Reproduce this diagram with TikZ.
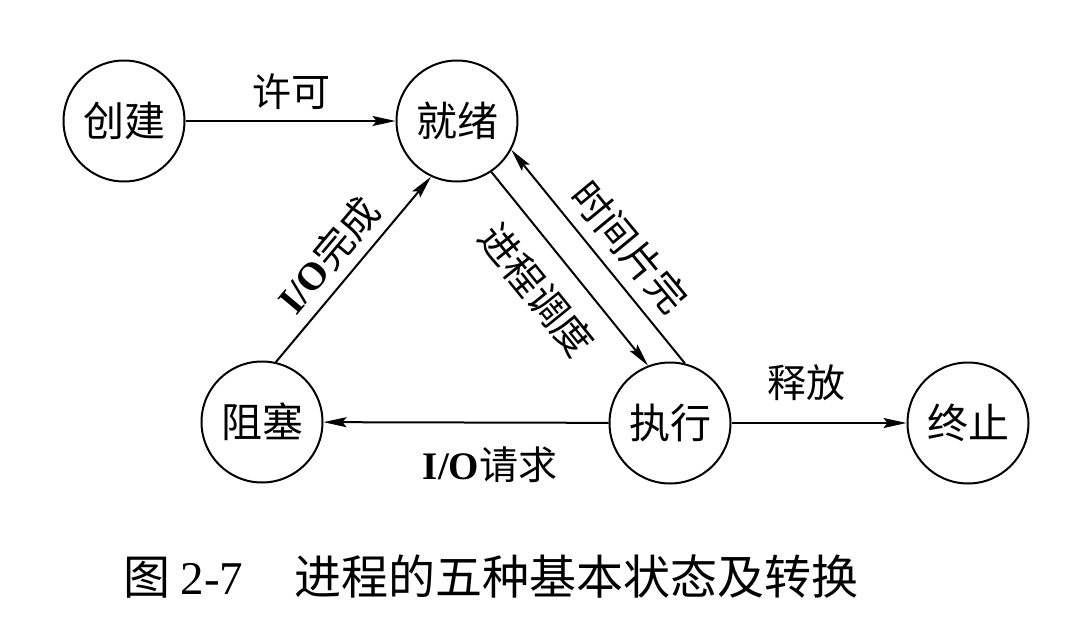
\documentclass[tikz,border=0pt]{standalone}
\usepackage{fontspec}
\setmainfont{Liberation Serif}
\newfontfamily\cjk{Noto Sans CJK SC}
\usetikzlibrary{arrows.meta}
\newcommand\myio{{\rmfamily\bfseries I/O}}
\begin{document}
\begin{tikzpicture}[x=1pt,y=-1pt,
  state/.style={circle,draw,line width=2pt,minimum size=121pt,inner sep=0pt,font=\cjk\fontsize{41}{44}\selectfont},
  arr/.style={line width=2pt,-{Stealth[length=23pt,width=10pt,inset=4pt]}},
  lab/.style={font=\cjk\fontsize{39}{42}\selectfont,inner sep=0pt}]
\useasboundingbox (0,0) rectangle (1066,624);
\node[state] (c) at (124,121) {创建};
\node[state] (r) at (457,121) {就绪};
\node[state] (b) at (262,422) {阻塞};
\node[state] (e) at (670,423) {执行};
\node[state] (t) at (968,423) {终止};
\draw[arr] (c) -- (r);
\draw[arr] (b.77.8) -- (r.245);
\draw[arr] (r.-56) -- (e.111.6);
\draw[arr] (e.76) -- (r.-28.7);
\draw[arr] (e) -- (b);
\draw[arr] (e) -- (t);
\node[lab] (l1) at (291,92) {许可};
\node[lab,rotate=50] (l2) at (328,255) {\myio 完成};
\node[lab,rotate=-51] (l3) at (537,290) {进程调度};
\node[lab,rotate=-50.5] (l4) at (630,247) {时间片完};
\node[lab] (l5) at (806,383) {释放};
\node[lab] (l6) at (490,465) {\myio 请求};
\node[lab,font=\cjk\fontsize{47}{50}\selectfont] (cap) at (491,577) {图 {\rmfamily 2-7}\hspace{1.1em}进程的五种基本状态及转换};
\end{tikzpicture}
\end{document}
